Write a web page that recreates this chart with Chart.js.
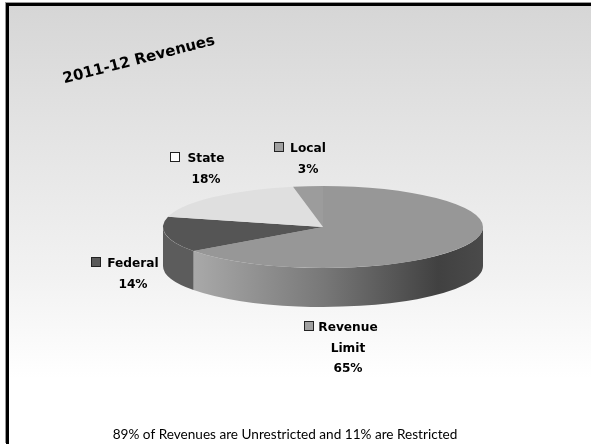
<!DOCTYPE html>
<html><head><meta charset="utf-8">
<script src="https://cdn.jsdelivr.net/npm/chart.js@4"></script>
<style>
html,body{margin:0;padding:0;background:#fff;width:591px;height:444px;overflow:hidden}
#frame{position:absolute;left:6px;top:3px;width:590px;height:441px;box-sizing:border-box;border:3px solid #000;border-right:none;border-bottom:none;
 box-shadow:-1px -1px 0 #999;background:linear-gradient(#d6d6d6 0%,#e4e4e4 30%,#f2f2f2 62%,#fff 85%,#fff 100%)}
canvas{position:absolute;left:0;top:0}
</style></head><body>
<div id="frame"></div>
<canvas id="c" width="591" height="444"></canvas>
<script>
const categories=["Revenue Limit","Federal","State","Local"];
const values=[65,14,18,3];
const sliceColors=["#979797","#555555","#dfdfdf","#9c9c9c"];
const swatchColors=["#a0a0a0","#5a5a5a","#ffffff","#a0a0a0"];
const labelLines=[["Revenue","Limit","65%"],["Federal","14%"],["State","18%"],["Local","3%"]];
const chartTitle="2011-12 Revenues";
const footerText="89% of Revenues are Unrestricted and 11% are Restricted";

const squash=41/160, depth=39, labelFont='bold 12.2px "DejaVu Sans"';
const labelPos=[{x:348,y:328,sx:304},{x:133,y:264,sx:91},{x:206,y:159,sx:170},{x:308,y:149,sx:274}];

const pie3d={
 id:'pie3d',
 beforeDatasetsDraw(chart){
  const ctx=chart.ctx, arcs=chart.getDatasetMeta(0).data, a0=arcs[0];
  const cx=a0.x, cy=a0.y, r=a0.outerRadius;
  const wall=(arc,fill)=>{
   const s=Math.max(arc.startAngle,0), e=Math.min(arc.endAngle,Math.PI);
   if(e<=s) return;
   ctx.beginPath();
   ctx.ellipse(cx,cy,r,r*squash,0,s,e,false);
   ctx.ellipse(cx,cy+depth,r,r*squash,0,e,s,true);
   ctx.closePath();
   ctx.fillStyle=fill; ctx.fill();
  };
  const g=ctx.createLinearGradient(cx-r,0,cx+r,0);
  g.addColorStop(0,'#b0b0b0');g.addColorStop(0.12,'#a6a6a6');g.addColorStop(0.5,'#787878');
  g.addColorStop(0.86,'#414141');g.addColorStop(1,'#4a4a4a');
  arcs.forEach((arc,i)=>wall(arc,i===0?g:'#5c5c5c'));
  ctx.save();
  ctx.translate(0,cy);ctx.scale(1,squash);ctx.translate(0,-cy);
 },
 afterDatasetsDraw(chart){
  const ctx=chart.ctx; ctx.restore();
  ctx.save();
  ctx.fillStyle='#000';ctx.textAlign='center';ctx.textBaseline='middle';
  labelLines.forEach((lines,i)=>{
   const p=labelPos[i];
   ctx.font=labelFont;
   lines.forEach((t,j)=>ctx.fillText(t,p.x,p.y+j*20.5));
   ctx.fillStyle=swatchColors[i];ctx.strokeStyle='#222';ctx.lineWidth=1;
   ctx.fillRect(p.sx+.5,p.y-6.5,9,9);ctx.strokeRect(p.sx+.5,p.y-6.5,9,9);
   ctx.fillStyle='#000';
  });
  ctx.font='13.6px Lato';
  ctx.fillText(footerText,285,435);
  ctx.translate(139,60);ctx.rotate(-14.5*Math.PI/180);
  ctx.font='bold 15px "DejaVu Sans"';
  ctx.fillText(chartTitle,0,0);
  ctx.restore();
 }
};

new Chart(document.getElementById('c'),{
 type:'pie',
 data:{labels:categories,datasets:[{data:values,backgroundColor:sliceColors,borderWidth:0}]},
 options:{
  responsive:false,animation:false,
  radius:160,
  layout:{padding:0},
  plugins:{legend:{display:false},title:{display:false},tooltip:{enabled:false}}
 },
 plugins:[pie3d,{id:'place',afterLayout(c){
   c.chartArea.left=323-222; c.chartArea.right=323+222; c.chartArea.top=5; c.chartArea.bottom=449;
 }}]
});
</script>
</body></html>
